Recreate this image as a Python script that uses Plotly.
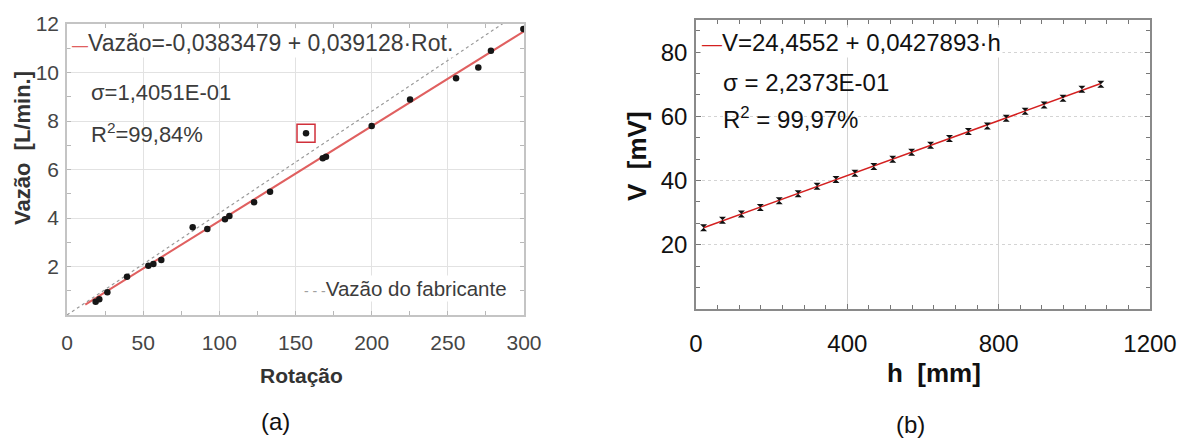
import plotly.graph_objects as go

# ---------------- data (a) ----------------
rotacao = [18.8, 21.2, 26.5, 39.4, 53.4, 56.7, 61.9, 82.5, 92.1, 103.7, 106.6,
           122.8, 133.3, 156.9, 167.9, 170.0, 200.0, 225.2, 255.4, 270.0, 278.3, 299.6]
vazao = [0.55, 0.65, 0.94, 1.58, 2.03, 2.10, 2.27, 3.62, 3.55, 3.95, 4.08,
         4.65, 5.08, 7.49, 6.46, 6.53, 7.79, 8.89, 9.76, 10.21, 10.90, 11.79]
outlier_index = 13
fab_rot = [0, 300]
fab_vazao = [0, 12.6]
a_intercept = -0.0383479
a_slope = 0.039128
a_fit_range = [12, 300]
a_xticks = [0, 50, 100, 150, 200, 250, 300]
a_yticks = [2, 4, 6, 8, 10, 12]

# ---------------- data (b) ----------------
h_mm = [20, 70, 120, 170, 220, 270, 320, 370, 420, 470, 520,
        570, 620, 670, 720, 770, 820, 870, 920, 970, 1020, 1070]
v_mv = [25.3, 27.6, 29.6, 31.6, 33.7, 35.9, 38.2, 40.3, 42.3, 44.4, 46.6,
        48.8, 51.0, 53.1, 55.3, 57.0, 59.4, 61.6, 63.5, 65.6, 68.4, 70.0]
b_intercept = 24.4552
b_slope = 0.0427893
b_xticks = [0, 400, 800, 1200]
b_yticks = [20, 40, 60, 80]

W, H = 1188, 442
FONT = "Liberation Sans, Arial, Helvetica, sans-serif"
GREY_TXT = "#3c3c3c"


def px(x):
    return x / W


def py(y):
    return 1 - y / H


fig = go.Figure()

# (a) traces
fig.add_trace(go.Scatter(x=fab_rot, y=fab_vazao, mode="lines",
                         line=dict(color="#9a9a9a", width=1.2, dash="dot"),
                         xaxis="x", yaxis="y", hoverinfo="skip"))
fig.add_trace(go.Scatter(x=a_fit_range,
                         y=[a_intercept + a_slope * r for r in a_fit_range],
                         mode="lines", line=dict(color="#e06060", width=2),
                         xaxis="x", yaxis="y"))
fig.add_trace(go.Scatter(x=rotacao, y=vazao, mode="markers",
                         marker=dict(color="#161616", size=6.5),
                         xaxis="x", yaxis="y"))
fig.add_trace(go.Scatter(x=[rotacao[outlier_index]], y=[vazao[outlier_index]],
                         mode="markers",
                         marker=dict(symbol="square-open", size=18, color="#d0303a",
                                     line=dict(width=1.5, color="#d0303a")),
                         xaxis="x", yaxis="y"))

# (b) traces
fig.add_trace(go.Scatter(x=[h_mm[0], h_mm[-1]],
                         y=[b_intercept + b_slope * h_mm[0], b_intercept + b_slope * h_mm[-1]],
                         mode="lines", line=dict(color="#d42020", width=1.6),
                         xaxis="x2", yaxis="y2"))
fig.add_trace(go.Scatter(x=h_mm, y=v_mv, mode="markers",
                         marker=dict(symbol="hourglass", size=7, color="#111111"),
                         xaxis="x2", yaxis="y2"))

axis_a = dict(showline=True, linecolor="#c4c4c4", linewidth=1.5, mirror="allticks",
              ticks="inside", ticklen=4, tickcolor="#b8b8b8", automargin=False,
              showgrid=True, gridcolor="#e2e2e2", gridwidth=1, zeroline=False,
              tickfont=dict(family=FONT, size=21, color="#454545"))
axis_b = dict(showline=True, linecolor="#8a8a8a", linewidth=1.5, mirror="allticks",
              ticks="inside", ticklen=5, tickcolor="#777777", automargin=False,
              showgrid=True, gridcolor="#d4d4d4", gridwidth=1, zeroline=False,
              tickfont=dict(family=FONT, size=24, color="#111111"))

fig.update_layout(
    template="none",
    width=W, height=H,
    margin=dict(l=0, r=0, t=0, b=0, autoexpand=False),
    paper_bgcolor="white", plot_bgcolor="white",
    showlegend=False,
    xaxis=dict(axis_a, domain=[px(67), px(524)], range=[0, 300],
               tickvals=a_xticks, ticklabelstandoff=8,
               minor=dict(dtick=25, ticks="inside", ticklen=4, tickcolor="#b8b8b8", showgrid=False),
               anchor="y"),
    yaxis=dict(axis_a, domain=[py(315), py(24)], range=[0, 12],
               tickvals=a_yticks, ticklabelstandoff=2,
               minor=dict(dtick=1, ticks="inside", ticklen=4, tickcolor="#b8b8b8", showgrid=False),
               anchor="x"),
    xaxis2=dict(axis_b, domain=[px(696), px(1150)], range=[0, 1200],
                tickvals=b_xticks, ticklabelstandoff=12,
                minor=dict(dtick=400 / 7, ticks="inside", ticklen=4, tickcolor="#777777", showgrid=False),
                anchor="y2"),
    yaxis2=dict(axis_b, domain=[py(309), py(20)], range=[0, 90],
                tickvals=b_yticks, ticklabelstandoff=2, griddash="dot",
                minor=dict(dtick=20 / 3, ticks="inside", ticklen=4, tickcolor="#777777", showgrid=False),
                anchor="x2"),
)

ann = []


def text(x, y, s, size, color, xanchor="left", bold=False, angle=0, bg=None):
    a = dict(x=px(x), y=py(y), xref="paper", yref="paper", text=("<b>%s</b>" % s) if bold else s,
             showarrow=False, xanchor=xanchor, yanchor="middle", textangle=angle,
             font=dict(family=FONT, size=size, color=color))
    if bg:
        a["bgcolor"] = bg
        a["borderpad"] = 1
    ann.append(a)


# (a) legend / stats
text(70, 43, "<span style='color:#e06060;font-size:16px'>—</span>Vazão=-0,0383479 + 0,039128·Rot.", 23, GREY_TXT, bg="white")
text(89, 92, "σ=1,4051E-01", 22, GREY_TXT)
text(89, 133, "R<sup>2</sup>=99,84%", 22, GREY_TXT)
text(302, 288, "<span style='color:#a0a0a0;font-size:14px'>- - -</span>Vazão do fabricante", 20.5, GREY_TXT, bg="white")
# (a) axis titles
text(301, 375, "Rotação", 21, "#333333", xanchor="center", bold=True)
text(23, 148, "Vazão  [L/min.]", 22, "#333333", xanchor="center", bold=True, angle=-90)
text(275, 421, "(a)", 24, "#111111", xanchor="center")

# (b) legend / stats
text(700, 43, "<span style='color:#d42020;font-size:20px'>—</span>V=24,4552 + 0,0427893·h", 24, "#111111", bg="white")
text(721, 82, "σ = 2,2373E-01", 24, "#111111")
text(721, 118, "R<sup>2</sup> = 99,97%", 24, "#111111")
# (b) axis titles
text(934, 373, "h  [mm]", 26, "#111111", xanchor="center", bold=True)
text(637, 156, "V  [mV]", 26, "#111111", xanchor="center", bold=True, angle=-90)
text(910, 424, "(b)", 24, "#111111", xanchor="center")

fig.update_layout(annotations=ann)

fig.write_html("out.html", config={"displayModeBar": False},
               post_script="document.body.style.margin='0';document.body.style.padding='0';")
